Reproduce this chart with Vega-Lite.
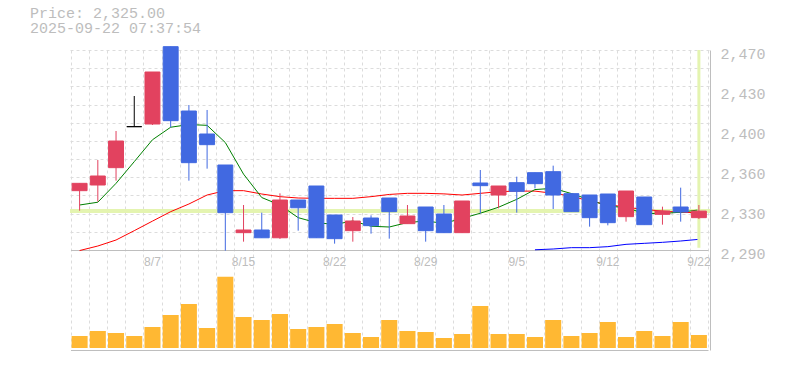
{
  "$schema": "https://vega.github.io/schema/vega-lite/v6.json",
  "width": 640,
  "height": 300,
  "autosize": {"type": "none"},
  "padding": {"left": 70, "top": 50, "right": 75, "bottom": 20},
  "background": "white",
  "config": {"view": {"stroke": null}},
  "title": {
    "text": ["Price: 2,325.00", "2025-09-22 07:37:54"],
    "anchor": "start",
    "frame": "group",
    "font": "Liberation Mono",
    "fontSize": 15,
    "fontWeight": "normal",
    "color": "#bdbdbd",
    "dx": -40,
    "offset": 10,
    "lineHeight": 15.2
  },
  "data": {
    "values": [
      {"d": "8/1", "o": 2343.4, "h": 2350.0, "l": 2325.4, "c": 2350.0, "v": 360000, "ma5": 2330.5, "ma25": 2289.5, "ma75": null},
      {"d": "8/4", "o": 2348.5, "h": 2371.0, "l": 2333.5, "c": 2356.6, "v": 510000, "ma5": 2333.0, "ma25": 2293.6, "ma75": null},
      {"d": "8/5", "o": 2364.1, "h": 2397.1, "l": 2352.4, "c": 2388.1, "v": 450000, "ma5": 2350.0, "ma25": 2299.0, "ma75": null},
      {"d": "8/6", "o": 2401.0, "h": 2428.6, "l": 2401.0, "c": 2401.0, "v": 360000, "ma5": 2369.5, "ma25": 2307.4, "ma75": null},
      {"d": "8/7", "o": 2403.4, "h": 2450.2, "l": 2402.5, "c": 2450.2, "v": 630000, "ma5": 2389.2, "ma25": 2316.0, "ma75": null},
      {"d": "8/8", "o": 2473.0, "h": 2473.0, "l": 2400.4, "c": 2406.4, "v": 990000, "ma5": 2400.5, "ma25": 2324.5, "ma75": null},
      {"d": "8/12", "o": 2415.1, "h": 2420.5, "l": 2352.4, "c": 2368.6, "v": 1320000, "ma5": 2402.9, "ma25": 2331.4, "ma75": null},
      {"d": "8/13", "o": 2394.4, "h": 2416.0, "l": 2363.2, "c": 2384.8, "v": 600000, "ma5": 2402.2, "ma25": 2339.5, "ma75": null},
      {"d": "8/14", "o": 2366.5, "h": 2366.5, "l": 2289.4, "c": 2323.6, "v": 2140000, "ma5": 2386.7, "ma25": 2343.4, "ma75": null},
      {"d": "8/15", "o": 2305.6, "h": 2330.5, "l": 2297.5, "c": 2308.0, "v": 930000, "ma5": 2358.3, "ma25": 2343.4, "ma75": null},
      {"d": "8/18", "o": 2308.0, "h": 2323.6, "l": 2301.0, "c": 2301.0, "v": 840000, "ma5": 2337.2, "ma25": 2340.4, "ma75": null},
      {"d": "8/19", "o": 2301.0, "h": 2341.0, "l": 2300.0, "c": 2335.0, "v": 1020000, "ma5": 2330.5, "ma25": 2338.0, "ma75": null},
      {"d": "8/20", "o": 2335.0, "h": 2335.0, "l": 2307.4, "c": 2328.0, "v": 570000, "ma5": 2319.1, "ma25": 2336.8, "ma75": null},
      {"d": "8/21", "o": 2347.6, "h": 2347.6, "l": 2301.0, "c": 2301.0, "v": 630000, "ma5": 2314.6, "ma25": 2336.5, "ma75": null},
      {"d": "8/22", "o": 2321.5, "h": 2321.5, "l": 2295.7, "c": 2300.2, "v": 720000, "ma5": 2313.0, "ma25": 2336.5, "ma75": null},
      {"d": "8/25", "o": 2307.4, "h": 2319.7, "l": 2297.5, "c": 2316.1, "v": 450000, "ma5": 2316.1, "ma25": 2336.5, "ma75": null},
      {"d": "8/26", "o": 2318.8, "h": 2321.2, "l": 2304.7, "c": 2311.9, "v": 330000, "ma5": 2311.4, "ma25": 2338.0, "ma75": null},
      {"d": "8/27", "o": 2336.8, "h": 2336.8, "l": 2300.2, "c": 2324.5, "v": 840000, "ma5": 2310.7, "ma25": 2340.0, "ma75": null},
      {"d": "8/28", "o": 2313.7, "h": 2330.5, "l": 2313.7, "c": 2320.6, "v": 510000, "ma5": 2314.7, "ma25": 2341.0, "ma75": null},
      {"d": "8/29", "o": 2328.7, "h": 2328.7, "l": 2297.5, "c": 2307.4, "v": 480000, "ma5": 2316.1, "ma25": 2341.0, "ma75": null},
      {"d": "9/1", "o": 2322.4, "h": 2330.5, "l": 2305.6, "c": 2305.6, "v": 300000, "ma5": 2314.0, "ma25": 2340.5, "ma75": null},
      {"d": "9/2", "o": 2305.6, "h": 2334.1, "l": 2305.6, "c": 2334.1, "v": 420000, "ma5": 2318.4, "ma25": 2339.5, "ma75": null},
      {"d": "9/3", "o": 2350.3, "h": 2362.0, "l": 2323.0, "c": 2347.9, "v": 1260000, "ma5": 2323.1, "ma25": 2341.0, "ma75": null},
      {"d": "9/4", "o": 2339.5, "h": 2347.6, "l": 2327.5, "c": 2347.6, "v": 420000, "ma5": 2328.5, "ma25": 2342.5, "ma75": null},
      {"d": "9/5", "o": 2350.6, "h": 2356.0, "l": 2323.6, "c": 2342.8, "v": 420000, "ma5": 2335.6, "ma25": 2343.0, "ma75": null},
      {"d": "9/8", "o": 2359.6, "h": 2359.6, "l": 2345.5, "c": 2349.7, "v": 330000, "ma5": 2344.4, "ma25": 2343.0, "ma75": 2290.2},
      {"d": "9/9", "o": 2360.5, "h": 2365.9, "l": 2326.9, "c": 2339.5, "v": 840000, "ma5": 2345.5, "ma25": 2341.0, "ma75": 2290.9},
      {"d": "9/10", "o": 2340.7, "h": 2340.7, "l": 2324.5, "c": 2324.5, "v": 360000, "ma5": 2340.8, "ma25": 2338.5, "ma75": 2292.1},
      {"d": "9/11", "o": 2339.5, "h": 2339.5, "l": 2311.0, "c": 2319.1, "v": 450000, "ma5": 2335.1, "ma25": 2334.0, "ma75": 2292.1},
      {"d": "9/12", "o": 2340.4, "h": 2340.4, "l": 2312.2, "c": 2314.6, "v": 780000, "ma5": 2329.5, "ma25": 2331.0, "ma75": 2293.0},
      {"d": "9/16", "o": 2320.0, "h": 2343.1, "l": 2315.5, "c": 2343.1, "v": 330000, "ma5": 2328.2, "ma25": 2328.5, "ma75": 2295.1},
      {"d": "9/17", "o": 2337.7, "h": 2337.7, "l": 2312.8, "c": 2312.8, "v": 510000, "ma5": 2322.8, "ma25": 2326.5, "ma75": 2296.0},
      {"d": "9/18", "o": 2322.1, "h": 2329.0, "l": 2312.8, "c": 2325.1, "v": 360000, "ma5": 2322.9, "ma25": 2325.0, "ma75": 2296.9},
      {"d": "9/19", "o": 2328.7, "h": 2346.1, "l": 2315.5, "c": 2324.2, "v": 780000, "ma5": 2324.0, "ma25": 2324.0, "ma75": 2298.1},
      {"d": "9/22", "o": 2319.1, "h": 2330.5, "l": 2317.9, "c": 2325.0, "v": 390000, "ma5": 2326.1, "ma25": 2323.5, "ma75": 2299.6}
    ]
  },
  "layer": [
    {
      "layer": [
        {
          "mark": {"type": "rule", "color": "#e4f4b0", "strokeWidth": 3},
          "encoding": {
            "y": {
              "datum": 2325,
              "type": "quantitative",
              "scale": {"domain": [2290, 2470], "range": [200, 0], "nice": false, "zero": false},
              "axis": {
                "orient": "left",
                "values": [2306.36, 2322.73, 2339.09, 2355.45, 2371.82, 2388.18, 2404.55, 2420.91, 2437.27, 2453.64, 2470],
                "grid": true,
                "gridColor": "#dcdcdc",
                "gridDash": [3, 3],
                "gridWidth": 1,
                "labels": false,
                "ticks": false,
                "domain": false,
                "title": null
              }
            }
          }
        },
        {
          "mark": {"type": "line", "color": "#ff0000", "strokeWidth": 1},
          "encoding": {
            "x": {
              "field": "d",
              "type": "ordinal",
              "sort": null,
              "scale": {"range": [0.5, 638], "paddingInner": 0, "paddingOuter": 0},
              "axis": {
                "orient": "bottom",
                "offset": -100,
                "values": ["8/7", "8/15", "8/22", "8/29", "9/5", "9/12", "9/22"],
                "grid": false,
                "ticks": false,
                "tickSize": 0,
                "domain": true,
                "domainColor": "#bebebe",
                "domainWidth": 1,
                "labelFont": "Liberation Sans",
                "labelFontSize": 12,
                "labelColor": "#bdbdbd",
                "labelAngle": 0,
                "labelPadding": 6,
                "title": null
              }
            },
            "y": {"field": "ma25", "type": "quantitative", "axis": null},
            "order": {"value": null}
          }
        },
        {
          "mark": {"type": "line", "color": "#0000ff", "strokeWidth": 1},
          "encoding": {
            "x": {"field": "d", "type": "ordinal", "sort": null},
            "y": {"field": "ma75", "type": "quantitative", "axis": null},
            "order": {"value": null}
          }
        },
        {
          "mark": {"type": "line", "color": "#008000", "strokeWidth": 1},
          "encoding": {
            "x": {"field": "d", "type": "ordinal", "sort": null},
            "y": {"field": "ma5", "type": "quantitative", "axis": null},
            "order": {"value": null}
          }
        },
        {
          "transform": [{"filter": "datum.d == '9/22'"}],
          "mark": {"type": "rule", "color": "#e4f4b0", "strokeWidth": 3},
          "encoding": {
            "x": {"field": "d", "type": "ordinal", "sort": null},
            "y": {"datum": 2470, "type": "quantitative", "axis": null},
            "y2": {"datum": 2292}
          }
        },
        {
          "mark": {"type": "rule", "strokeWidth": 1},
          "encoding": {
            "x": {"field": "d", "type": "ordinal", "sort": null},
            "y": {"field": "l", "type": "quantitative", "axis": null},
            "y2": {"field": "h"},
            "stroke": {
              "condition": [
                {"test": "datum.c > datum.o", "value": "#e2425f"},
                {"test": "datum.c < datum.o", "value": "#4169e1"}
              ],
              "value": "#000000"
            }
          }
        },
        {
          "mark": {"type": "bar", "width": {"band": 0.82}, "strokeWidth": 1},
          "encoding": {
            "x": {"field": "d", "type": "ordinal", "sort": null},
            "y": {
              "field": "o",
              "type": "quantitative",
              "axis": {
                "orient": "right",
                "values": [2290, 2326, 2362, 2398, 2434, 2470],
                "labelExpr": "format(round(datum.value / 10) * 10, ',')",
                "grid": false,
                "ticks": false,
                "tickSize": 0,
                "domain": false,
                "labelFont": "Liberation Mono",
                "labelFontSize": 15,
                "labelColor": "#bdbdbd",
                "labelPadding": 10,
                "labelBaseline": "middle",
                "labelOffset": 3,
                "labelFlush": false,
                "labelOverlap": false,
                "title": null
              }
            },
            "y2": {"field": "c"},
            "fill": {
              "condition": [
                {"test": "datum.c > datum.o", "value": "#e2425f"},
                {"test": "datum.c < datum.o", "value": "#4169e1"}
              ],
              "value": "#000000"
            },
            "stroke": {
              "condition": [
                {"test": "datum.c > datum.o", "value": "#e2425f"},
                {"test": "datum.c < datum.o", "value": "#4169e1"}
              ],
              "value": "#000000"
            }
          }
        }
      ],
      "resolve": {"axis": {"y": "independent"}}
    },
    {
      "mark": {"type": "bar", "width": {"band": 0.88}, "color": "#ffb833"},
      "encoding": {
        "x": {
          "field": "d",
          "type": "ordinal",
          "sort": null,
          "scale": {"range": [0.5, 638], "paddingInner": 0, "paddingOuter": 0},
          "axis": {
            "orient": "bottom",
            "grid": true,
            "tickBand": "extent",
            "gridColor": "#dcdcdc",
            "gridDash": [3, 3],
            "gridWidth": 1,
            "labels": false,
            "ticks": false,
            "domain": true,
            "domainColor": "#bebebe",
            "domainWidth": 1,
            "title": null
          }
        },
        "y": {
          "field": "v",
          "type": "quantitative",
          "stack": null,
          "scale": {"domain": [-60000, 8940000], "nice": false, "zero": false},
          "axis": {
            "orient": "right",
            "grid": false,
            "labels": false,
            "ticks": false,
            "domain": true,
            "domainColor": "#bebebe",
            "domainWidth": 1,
            "title": null
          }
        }
      }
    }
  ],
  "resolve": {"scale": {"y": "independent"}, "axis": {"x": "independent", "y": "independent"}}
}
